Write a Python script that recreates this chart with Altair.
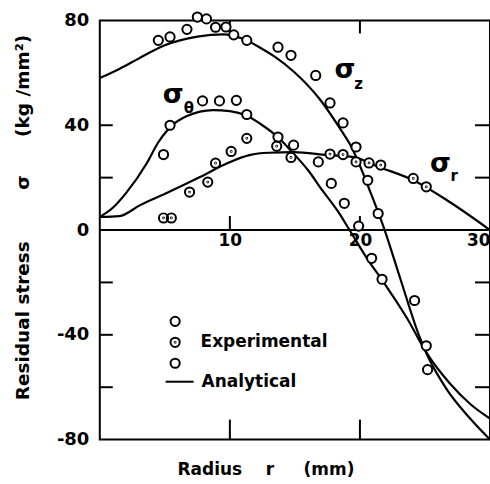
import altair as alt
import pandas as pd

NB = "\u00a0"
FONT = "DejaVu Sans"

# ---- analytical curves ----
z_x = [0, 1.5, 3, 5, 7.5, 9.5, 11, 12.3, 13.5, 14.9, 16.9, 18.5, 19.2, 19.7, 20.8, 21.9, 23.1, 24.6, 25.2, 26.7, 28.3, 30]
z_y = [58, 61.5, 65.5, 70.5, 73.8, 74.7, 73, 69.7, 66, 60.5, 50, 38.5, 33, 28, 14.5, 0, -18.5, -41, -48, -61, -71, -80]

t_x = [0, 1, 2, 3.6, 4.5, 5.1, 5.7, 6.7, 7.7, 8.7, 10, 11.3, 12.5, 13.7, 14.8, 16, 17.1, 18.3, 19.2, 20.5, 21.8, 23.6, 25.2, 26.9, 28.5, 30]
t_y = [5, 8.5, 14, 25.4, 33.5, 37.5, 40.5, 43.5, 45.2, 45.8, 45.4, 43.6, 40, 35.4, 29.7, 22.9, 15.2, 7.2, 0, -10.5, -19.8, -33.5, -47.5, -58.5, -66.5, -72]

r_x = [0, 1.5, 3.1, 5.1, 7.7, 9.8, 11.5, 13, 14.9, 17.5, 19.5, 21.5, 24.1, 26.9, 30]
r_y = [5, 5.3, 9.5, 14, 20.2, 25.5, 28.6, 29.5, 29.7, 28.6, 27.8, 24, 19, 10.7, 0]

# ---- experimental points ----
pz_x = [4.5, 5.4, 6.7, 7.5, 8.2, 8.9, 9.7, 10.3, 11.3, 13.7, 14.7, 16.6, 17.7, 18.7, 19.7, 20.6, 21.4, 24.2, 25.1, 25.2]
pz_y = [72.4, 73.7, 76.6, 81.3, 80.6, 77.4, 77.5, 74.5, 72.4, 69.8, 66.7, 59, 48.5, 40.9, 31.7, 19, 6.3, -26.9, -44.2, -53.3]

pt_x = [4.9, 5.4, 7.9, 9.2, 10.5, 11.3, 13.7, 14.9, 16.8, 17.8, 18.8, 19.9, 20.9, 21.7]
pt_y = [28.8, 40, 49.3, 49.3, 49.5, 44.1, 35.5, 32.4, 26, 17.8, 10.2, 1.5, -10.8, -18.8]

pr_x = [4.9, 5.5, 6.9, 8.3, 8.9, 10.1, 11.3, 13.6, 14.7, 17.7, 18.7, 19.7, 20.7, 21.6, 24.1, 25.1]
pr_y = [4.6, 4.6, 14.5, 18.3, 25.5, 30, 35, 32, 27.7, 29, 28.8, 26, 25.6, 24.8, 19.7, 16.5]

series_names = ["σz", "σr", "σθ"]

# ---- curve labels ----
lab_x = [18.85, 5.65, 26.2]
lab_y = [57.9, 48.4, 22.1]
sub_txt = ["z", "θ", "r"]
sub_x = [19.9, 6.85, 27.25]
sub_y = [53.8, 44.5, 18.6]

# ---- axis ticks ----
x_labels = [10, 20, 30]
y_labels = [80, 40, 0, -40, -80]
y_minor = [40, 20, -20, -40, -60]
x_minor = [10, 20]
x_edges = [0, 30]
y_edges = [80, 0, -80]

lines = pd.DataFrame(
    {"series": ["σz"] * len(z_x) + ["σθ"] * len(t_x) + ["σr"] * len(r_x),
     "x": z_x + t_x + r_x,
     "y": z_y + t_y + r_y})
lines["kind"] = "Analytical"

pts = pd.DataFrame(
    {"series": ["σz"] * len(pz_x) + ["σθ"] * len(pt_x) + ["σr"] * len(pr_x),
     "x": pz_x + pt_x + pr_x,
     "y": pz_y + pt_y + pr_y})

labels = pd.DataFrame({"x": lab_x, "y": lab_y, "t": ["σ"] * 3})
subs = pd.DataFrame({"x": sub_x, "y": sub_y, "t": sub_txt})

xs = alt.Scale(domain=[0, 30], nice=False, zero=False)
ys = alt.Scale(domain=[-80, 80], nice=False, zero=False)

xaxis = alt.Axis(
    values=x_labels, format="d", domain=False, ticks=False, tickSize=0, grid=False,
    labelPadding=3, offset=-210, labelFlush=True,
    labelFont=FONT, labelFontSize=17, labelFontWeight="bold", labelColor="black",
    title="Radius" + NB * 4 + "r" + NB * 5 + "(mm)",
    titleFont=FONT, titleFontSize=17, titleFontWeight="bold", titleColor="black",
    titleX=166, titleY=245, titleBaseline="alphabetic", titleAlign="center")

yaxis = alt.Axis(
    values=y_labels, domain=False, ticks=False, tickSize=0, grid=False,
    labelPadding=11, labelExpr="replace(datum.label, '\u2212', '-')",
    labelFont=FONT, labelFontSize=18, labelFontWeight="bold", labelColor="black",
    title="Residual stress" + NB * 8 + "σ" + NB * 6 + "(kg /mm²)",
    titleFont=FONT, titleFontSize=18.5, titleFontWeight="bold", titleColor="black",
    titleX=-71, titleY=380, titleBaseline="alphabetic", titleAlign="left", titleAngle=270)


def X(f):
    return alt.X(f, scale=xs, axis=xaxis)


def Y(f):
    return alt.Y(f, scale=ys, axis=yaxis)


DOT = ("M-1,0A1,1,0,1,1,1,0A1,1,0,1,1,-1,0Z"
       "M-0.08,0A0.08,0.08,0,1,1,0.08,0A0.08,0.08,0,1,1,-0.08,0Z")

line_layer = alt.Chart(lines).mark_line(strokeWidth=2.2, interpolate="monotone").encode(
    x=X("x:Q"), y=Y("y:Q"),
    detail="series:N",
    color=alt.Color("kind:N", scale=alt.Scale(domain=["Analytical"], range=["black"]),
                    legend=alt.Legend(title=None, orient="none", legendX=65, legendY=347,
                                      symbolType="stroke", symbolSize=784, symbolStrokeWidth=2,
                                      labelOffset=7, padding=0,
                                      labelFont=FONT, labelFontSize=17, labelFontWeight="bold",
                                      labelColor="black")),
)

# white discs under the open symbols so lines do not show through
point_bg = alt.Chart(pts).mark_point(filled=True, color="white", size=85, opacity=1,
                                     shape="circle").encode(x=X("x:Q"), y=Y("y:Q"))

point_layer = alt.Chart(pts).mark_point(filled=False, color="black",
                                        strokeWidth=2, size=85, opacity=1).encode(
    x=X("x:Q"), y=Y("y:Q"),
    shape=alt.Shape("series:N", scale=alt.Scale(domain=series_names, range=["circle", DOT, "circle"]),
                    legend=alt.Legend(title=None, orient="none", legendX=67, legendY=293,
                                      labelExpr="datum.label == 'σr' ? 'Experimental' : ''",
                                      symbolSize=85, symbolStrokeWidth=2,
                                      labelOffset=17, rowPadding=2, padding=0,
                                      labelFont=FONT, labelFontSize=17, labelFontWeight="bold",
                                      labelColor="black")),
)

# zero line
zero_df = pd.DataFrame({"v": [0]})
zero = alt.Chart(zero_df).mark_rule(strokeWidth=2, color="black").encode(y=Y("v:Q"))


# inward ticks on left (x=0) and right (x=30) edges
def yticks(edge, off):
    df = pd.DataFrame({"v": y_minor, "e": [edge] * len(y_minor)})
    return alt.Chart(df).mark_rule(strokeWidth=2, color="black", x2Offset=off).encode(
        x=X("e:Q"), x2="e:Q", y=Y("v:Q"))


# inward ticks on top (80), zero line and bottom (-80)
def xticks(edge, off):
    df = pd.DataFrame({"v": x_minor, "e": [edge] * len(x_minor)})
    return alt.Chart(df).mark_rule(strokeWidth=2, color="black", y2Offset=off).encode(
        y=Y("e:Q"), y2="e:Q", x=X("v:Q"))


lab_layer = alt.Chart(labels).mark_text(font=FONT, fontSize=27, fontWeight="bold", baseline="alphabetic",
                                        align="center", color="black").encode(
    x=X("x:Q"), y=Y("y:Q"), text="t:N")

sub_layer = alt.Chart(subs).mark_text(font=FONT, fontSize=15, fontWeight="bold", baseline="alphabetic",
                                      align="center", color="black").encode(
    x=X("x:Q"), y=Y("y:Q"), text="t:N")

chart = alt.layer(
    line_layer, zero,
    yticks(x_edges[0], 13), yticks(x_edges[1], -15),
    xticks(y_edges[0], 13), xticks(y_edges[1], -14), xticks(y_edges[2], -20),
    point_bg, point_layer, lab_layer, sub_layer,
).properties(
    width=391, height=420,
    autosize=alt.AutoSizeParams(type="none"),
    padding={"left": 100, "top": 20, "right": 0, "bottom": 44},
    background="white",
).configure_view(stroke="black", strokeWidth=2)

chart.save("out.html", embed_options={"renderer": "svg", "actions": False})
